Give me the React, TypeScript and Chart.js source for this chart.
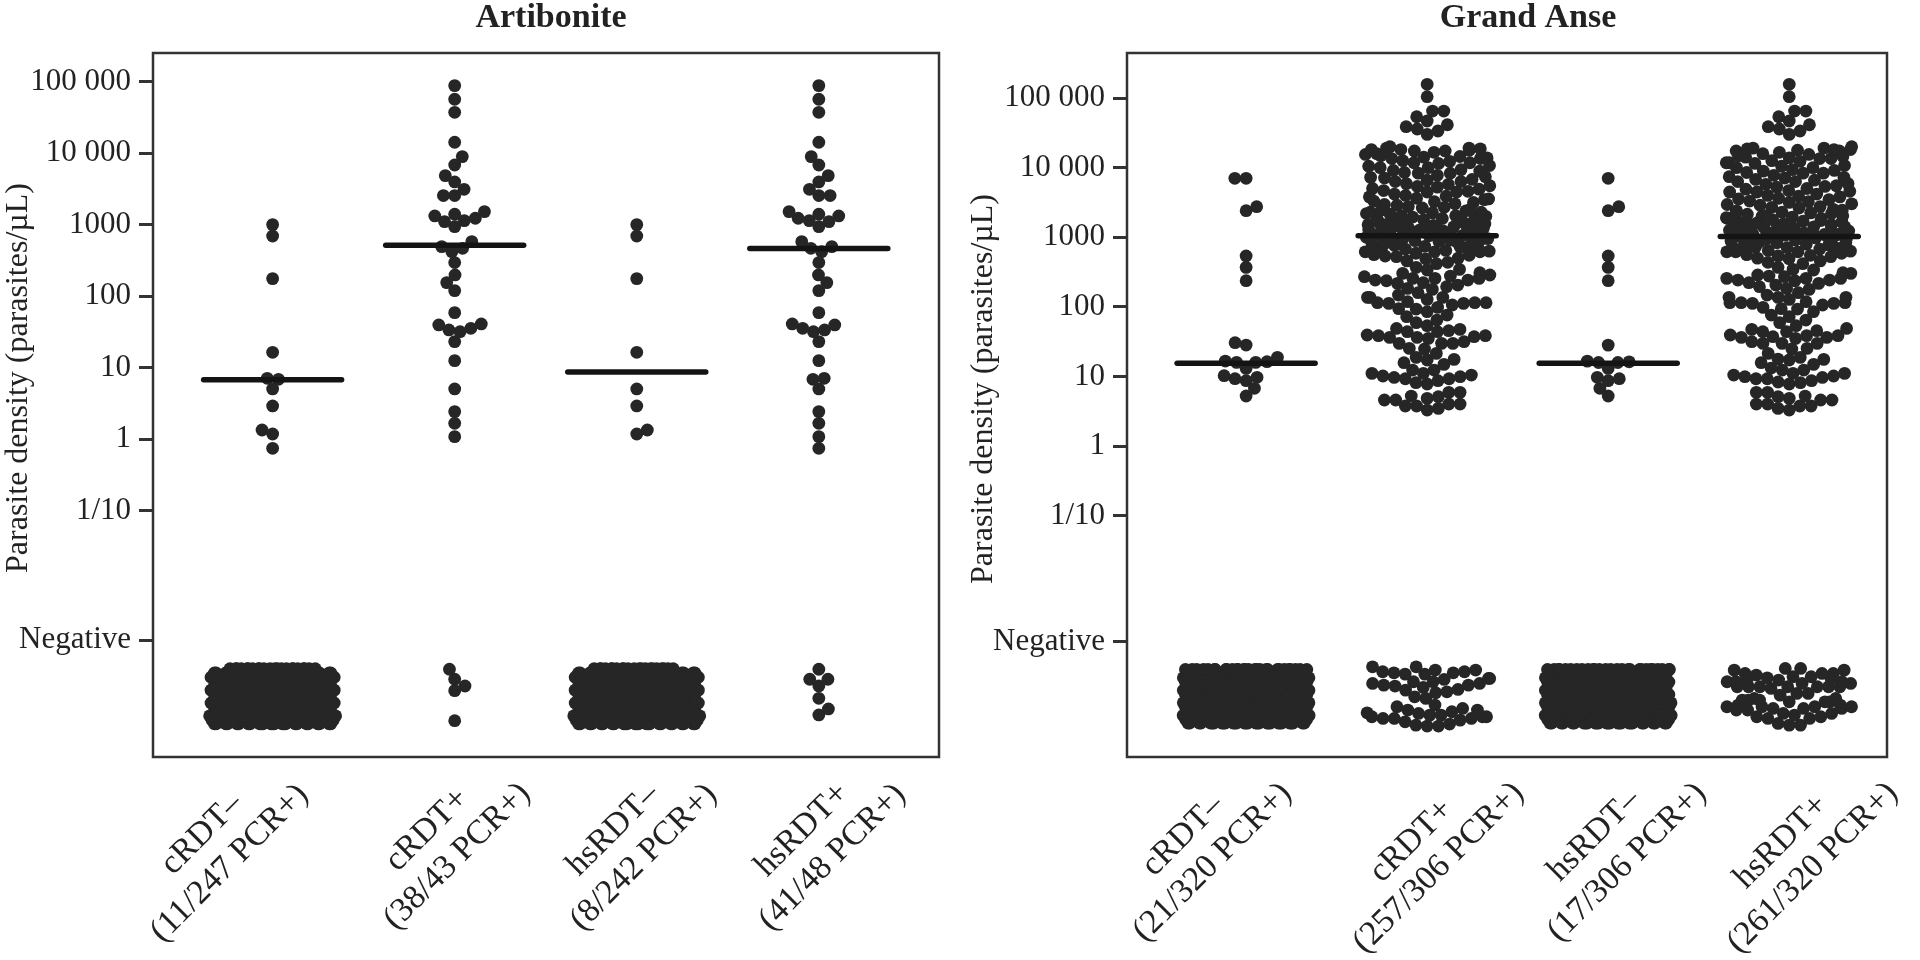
import React, { useEffect, useRef } from "react";
import { Chart, registerables } from "chart.js";

Chart.register(...registerables);

const FONT = '"Liberation Serif", serif';
const DOT = "#262626";

const categoriesArt = [["cRDT–", "(11/247 PCR+)"], ["cRDT+", "(38/43 PCR+)"], ["hsRDT–", "(8/242 PCR+)"], ["hsRDT+", "(41/48 PCR+)"]];
const categoriesGA = [["cRDT–", "(21/320 PCR+)"], ["cRDT+", "(257/306 PCR+)"], ["hsRDT–", "(17/306 PCR+)"], ["hsRDT+", "(261/320 PCR+)"]];

const yTickValues = [5, 4, 3, 2, 1, 0, -1, -2.81];
const yTickLabels = ["100 000", "10 000", "1000", "100", "10", "1", "1/10", "Negative"];

// All values: log10 parasite density; values below the "Negative" tick are PCR-negative participants.
const artCMinus = [3.0, 2.841, 2.245, 1.214, 0.851, 0.837, 0.702, 0.464, 0.128, 0.072, -0.128];
const artHsMinus = [3.0, 2.841, 2.245, 1.214, 0.702, 0.464, 0.128, 0.072];
const artCPlus = [4.944, 4.753, 4.571, 4.152, 3.951, 3.834, 3.685, 3.597, 3.494, 3.406, 3.406, 3.182, 3.145, 3.121, 3.089, 3.056, 3.042, 2.972, 2.762, 2.692, 2.669, 2.622, 2.469, 2.296, 2.189, 2.077, 1.769, 1.611, 1.597, 1.55, 1.527, 1.503, 1.364, 1.098, 0.702, 0.385, 0.221, 0.035];
const artHsPlusExtra = [0.851, 0.837, -0.128];
const artCPlusNeg = [-3.218, -3.358, -3.452, -3.517, -3.937];
const artHsPlusNeg = [-3.218, -3.358, -3.358, -3.452, -3.624, -3.773, -3.857];

const gaCMinus = [3.846, 3.846, 3.439, 3.381, 2.73, 2.567, 2.376, 1.485, 1.451, 1.274, 1.212, 1.202, 1.202, 1.221, 1.116, 0.987, 0.939, 0.968, 1.011, 0.829, 0.719];
const gaHsMinus = [3.846, 3.439, 3.381, 2.73, 2.567, 2.376, 1.45, 1.21, 1.2, 1.2, 1.22, 1.116, 0.987, 0.939, 0.968, 0.829, 0.719];
const gaCPlusTop = [5.197, 5.019, 4.813, 4.813, 4.731, 4.67, 4.616, 4.588, 4.555, 4.526, 4.478];
const gaCPlusUpper = [4.3, 4.28, 4.28, 4.27, 4.26, 4.26, 4.25, 4.24, 4.24, 4.22, 4.2, 4.19, 4.17, 4.16, 4.15, 4.14, 4.13, 4.13, 4.1, 4.09, 4.07, 4.07, 4.06, 4.03, 4.02, 4.0, 4.0, 3.97, 3.96, 3.95, 3.93, 3.92, 3.92, 3.89, 3.87, 3.86, 3.85, 3.83, 3.82, 3.8, 3.8, 3.77, 3.76, 3.74, 3.73, 3.72, 3.7, 3.69, 3.67, 3.66, 3.65, 3.65, 3.62, 3.6, 3.59, 3.58, 3.56, 3.55, 3.54, 3.52, 3.51, 3.5, 3.48, 3.47, 3.46, 3.44, 3.43, 3.42, 3.4, 3.39, 3.38, 3.36, 3.35, 3.34, 3.33, 3.31, 3.3, 3.29, 3.28, 3.27, 3.25, 3.24, 3.23, 3.22, 3.21, 3.2, 3.19, 3.18, 3.17, 3.16, 3.15, 3.14, 3.13, 3.12, 3.11, 3.1, 3.09, 3.08, 3.07, 3.06, 3.05, 3.05, 3.04, 3.04, 3.03, 3.03, 3.02, 3.02, 3.18, 3.22, 3.27, 3.31, 3.36, 3.12, 3.15, 3.09, 3.07];
const gaCPlusA = [3.0, 2.99, 2.98, 2.97, 2.96, 2.95, 2.94, 2.93, 2.92, 2.92, 2.91, 2.9, 2.89, 2.88, 2.87, 2.86, 2.85, 2.84, 2.83, 2.82, 2.81, 2.8, 2.79, 2.79, 2.79, 2.77, 2.75, 2.74, 2.73, 2.72, 2.7, 2.69, 2.66, 2.64, 2.62];
const gaCPlusB = [2.481, 2.433, 2.409, 2.375, 2.347, 2.265, 2.251, 2.337, 2.385, 2.385, 2.409, 2.442, 2.529, 2.49, 2.409, 2.457, 2.538, 2.567, 2.313, 2.289];
const gaCPlusC = [2.136, 2.05, 2.059, 2.059, 1.973, 1.858, 1.772, 1.81, 1.882, 1.968, 2.05, 2.059, 2.203, 2.074, 2.136, 2.107, 2.026, 1.992, 1.93, 2.136, 2.169];
const gaCPlusD = [1.729, 1.643, 1.643, 1.585, 1.561, 1.475, 1.475, 1.595, 1.547, 1.571, 1.657, 1.69, 1.561, 1.585, 1.676, 1.499, 1.475, 1.394, 1.331, 1.403];
const gaCPlusE = [1.274, 1.197, 1.245, 1.236, 1.173, 1.092, 1.044, 1.092, 1.02, 0.986, 0.939, 0.91, 1.006, 0.891, 0.967, 0.967, 0.996, 1.044];
const gaCPlusF = [0.771, 0.718, 0.771, 0.661, 0.603, 0.575, 0.575, 0.517, 0.541, 0.603, 0.661, 0.685, 0.709];
const gaHsPlusExtra = [0.92, 1.12, 1.25, 3.05];
const gaCPlusNeg = [-3.172, -3.172, -3.219, -3.219, -3.243, -3.243, -3.258, -3.258, -3.277, -3.277, -3.339, -3.339, -3.354, -3.387, -3.387, -3.411, -3.411, -3.435, -3.435, -3.449, -3.468, -3.497, -3.507, -3.531, -3.545, -3.603, -3.626, -3.722, -3.746, -3.77, -3.794, -3.794, -3.818, -3.833, -3.842, -3.866, -3.866, -3.89, -3.89, -3.89, -3.914, -3.914, -3.914, -3.938, -3.962, -3.995, -4.01, -4.024, -4.024];
const gaHsPlusNeg = [-4.01, -4.01, -3.986, -3.914, -3.914, -3.89, -3.89, -3.866, -3.842, -3.842, -3.794, -3.794, -3.77, -3.77, -3.77, -3.746, -3.746, -3.746, -3.746, -3.723, -3.723, -3.675, -3.675, -3.675, -3.651, -3.651, -3.651, -3.627, -3.627, -3.579, -3.555, -3.555, -3.483, -3.459, -3.459, -3.459, -3.459, -3.459, -3.459, -3.459, -3.411, -3.411, -3.387, -3.387, -3.387, -3.363, -3.363, -3.339, -3.33, -3.315, -3.315, -3.291, -3.267, -3.267, -3.267, -3.22, -3.22, -3.196, -3.196];

// Solid PCR-negative blocks, read as how many participants sit at each height band.
const negLevels = [-3.21, -3.27, -3.33, -3.39, -3.45, -3.51, -3.57, -3.63, -3.69, -3.75, -3.81, -3.87, -3.93, -3.98];
const artCMinusNegCounts = [22, 16, 16, 16, 15, 16, 15, 16, 15, 16, 15, 16, 17, 25];
const artHsMinusNegCounts = [21, 16, 15, 16, 15, 16, 15, 16, 15, 16, 15, 16, 17, 25];
const gaCMinusNegCounts = [28, 20, 20, 20, 19, 20, 20, 20, 20, 20, 20, 20, 22, 30];
const gaHsMinusNegCounts = [27, 20, 19, 20, 19, 19, 20, 19, 20, 19, 19, 20, 21, 27];

const artMedians = [0.832, 2.71, 0.94, 2.665];
const gaMedians = [1.19, 3.02, 1.19, 3.01];

const expand = (counts: number[]) => counts.flatMap((c, i) => Array(c).fill(negLevels[i]));
const gaCPlus = [...gaCPlusTop, ...gaCPlusUpper, ...gaCPlusA, ...gaCPlusB, ...gaCPlusC, ...gaCPlusD, ...gaCPlusE, ...gaCPlusF];

const artGroups = [
  [...artCMinus, ...expand(artCMinusNegCounts)],
  [...artCPlus, ...artCPlusNeg],
  [...artHsMinus, ...expand(artHsMinusNegCounts)],
  [...artCPlus, ...artHsPlusExtra, ...artHsPlusNeg],
];
const gaGroups = [
  [...gaCMinus, ...expand(gaCMinusNegCounts)],
  [...gaCPlus, ...gaCPlusNeg],
  [...gaHsMinus, ...expand(gaHsMinusNegCounts)],
  [...gaCPlus, ...gaHsPlusExtra, ...gaHsPlusNeg],
];

// Beeswarm: ascending priority, closest free spot to the centre, offsets wrapped inside the column.
function swarmOffsets(values: number[], pxPerDecade: number, spacing: number, limit: number) {
  const sorted = [...values].sort((a, b) => a - b);
  const placed: { x: number; y: number }[] = [];
  let side = 1;
  return sorted.map((v) => {
    const y = v * pxPerDecade;
    const near = placed.filter((p) => Math.abs(p.y - y) < spacing);
    const cands = [0];
    near.forEach((p) => {
      const dx = Math.sqrt(spacing * spacing - (p.y - y) ** 2);
      cands.push(p.x + dx, p.x - dx);
    });
    cands.sort((a, b) => Math.abs(a) - Math.abs(b) || side * (b - a));
    let x = 0;
    for (const c of cands) {
      if (near.every((p) => (p.x - c) ** 2 + (p.y - y) ** 2 >= spacing * spacing - 1e-6)) {
        x = c;
        break;
      }
    }
    if (x !== 0) side = x > 0 ? -1 : 1;
    placed.push({ x, y });
    const wrapped = ((((x + limit) % (2 * limit)) + 2 * limit) % (2 * limit)) - limit;
    return { v, offset: wrapped };
  });
}

type Panel = {
  title: string; titleX: number; categories: string[][]; groups: number[][]; medians: number[];
  canvasLeft: number; plotLeft: number; plotRight: number; plotTop: number; plotBottom: number;
  xMin: number; xMax: number; yMin: number; yMax: number; yTitleX: number; yTitleY: number;
  labelShift: number[][];
};

const panels: Panel[] = [
  { title: "Artibonite", titleX: 551, categories: categoriesArt, groups: artGroups, medians: artMedians, canvasLeft: 0, plotLeft: 153, plotRight: 939, plotTop: 53, plotBottom: 757, xMin: 0.343, xMax: 4.66, yMin: -4.445, yMax: 5.4, yTitleX: 19, yTitleY: 378,
    labelShift: [[-70.5, 77, -43, 106.5], [-27.4, 73, 2.6, 99.5], [-23.5, 73, 7, 100.5], [-16.7, 73, 13.8, 100.5]] },
  { title: "Grand Anse", titleX: 1528, categories: categoriesGA, groups: gaGroups, medians: gaMedians, canvasLeft: 960, plotLeft: 1127, plotRight: 1887, plotTop: 53, plotBottom: 757, xMin: 0.342, xMax: 4.54, yMin: -4.468, yMax: 5.647, yTitleX: 984, yTitleY: 389,
    labelShift: [[-63, 78.5, -33.5, 105.5], [-15.5, 84, 11.5, 111], [-14, 78.5, 19, 105.5], [-8, 85, 23.5, 111]] },
];

function PanelChart({ p }: { p: Panel }) {
  const ref = useRef<HTMLCanvasElement>(null);
  useEffect(() => {
    const pxPerUnit = (p.plotRight - p.plotLeft) / (p.xMax - p.xMin);
    const pxPerDecade = (p.plotBottom - p.plotTop) / (p.yMax - p.yMin);
    const points = p.groups.flatMap((vals, i) =>
      swarmOffsets(vals, pxPerDecade, 11.3, 63).map((s) => ({ x: i + 1 + s.offset / pxPerUnit, y: s.v }))
    );
    const medianSets = p.medians.map((m, i) => ({
      type: "line" as const,
      data: [{ x: i + 1 - 69 / pxPerUnit, y: m }, { x: i + 1 + 69 / pxPerUnit, y: m }],
      borderColor: "#141414", borderWidth: 5.5, borderCapStyle: "round" as const, pointRadius: 0, order: 1,
    }));
    const panelText = {
      id: "panelText",
      afterDraw(chart: any) {
        const { ctx, chartArea: a, scales } = chart;
        ctx.save();
        ctx.strokeStyle = "#333";
        ctx.lineWidth = 2.5;
        ctx.strokeRect(a.left, a.top, a.right - a.left, a.bottom - a.top);
        ctx.fillStyle = "#222";
        ctx.textAlign = "center";
        ctx.textBaseline = "middle";
        ctx.font = `bold 34px ${FONT}`;
        ctx.fillText(p.title, p.titleX - p.canvasLeft, 18);
        ctx.save();
        ctx.translate(p.yTitleX - p.canvasLeft, p.yTitleY);
        ctx.rotate(-Math.PI / 2);
        ctx.font = `32px ${FONT}`;
        ctx.fillText("Parasite density (parasites/µL)", 0, 0);
        ctx.restore();
        ctx.font = `34px ${FONT}`;
        p.categories.forEach((lines, i) => {
          const tick = scales.x.getPixelForValue(i + 1);
          const s = p.labelShift[i];
          lines.forEach((line, k) => {
            ctx.save();
            ctx.translate(tick + s[k * 2], a.bottom + s[k * 2 + 1]);
            ctx.rotate(-Math.PI / 4);
            ctx.fillText(line, 0, 0);
            ctx.restore();
          });
        });
        ctx.restore();
      },
    };
    const chart = new Chart(ref.current!, {
      type: "scatter",
      data: {
        datasets: [
          { data: points, backgroundColor: DOT, borderColor: DOT, borderWidth: 0, pointRadius: 6.4, order: 2 },
          ...medianSets,
        ] as any,
      },
      plugins: [panelText],
      options: {
        animation: false,
        responsive: false,
        clip: false as any,
        layout: { padding: { top: p.plotTop, right: p.canvasLeft + 960 - p.plotRight, left: 0, bottom: 0 } },
        plugins: { legend: { display: false }, title: { display: false }, tooltip: { enabled: false } },
        scales: {
          x: {
            type: "linear", min: p.xMin, max: p.xMax,
            afterBuildTicks(s: any) { s.ticks = [1, 2, 3, 4].map((value) => ({ value })); },
            afterFit(s: any) { s.height = 960 - p.plotBottom; },
            border: { display: false },
            grid: { display: false },
            ticks: { display: false },
          },
          y: {
            type: "linear", min: p.yMin, max: p.yMax,
            afterBuildTicks(s: any) { s.ticks = yTickValues.map((value) => ({ value })); },
            afterFit(s: any) { s.width = p.plotLeft - p.canvasLeft; },
            border: { display: false },
            grid: { drawOnChartArea: false, drawTicks: true, tickLength: 14, tickWidth: 3, tickColor: "#333" },
            ticks: {
              autoSkip: false, padding: 8, color: "#222",
              font: { family: FONT, size: 31 },
              callback: (v: any) => yTickLabels[yTickValues.indexOf(Number(v))],
            },
          },
        },
      },
    });
    return () => chart.destroy();
  }, [p]);
  return <canvas ref={ref} width={960} height={960} style={{ position: "absolute", left: p.canvasLeft, top: 0, width: 960, height: 960 }} />;
}

export default function App() {
  return (
    <div style={{ position: "fixed", left: 0, top: 0, width: 1920, height: 960, background: "#fff", overflow: "hidden" }}>
      {panels.map((p) => <PanelChart key={p.title} p={p} />)}
    </div>
  );
}
